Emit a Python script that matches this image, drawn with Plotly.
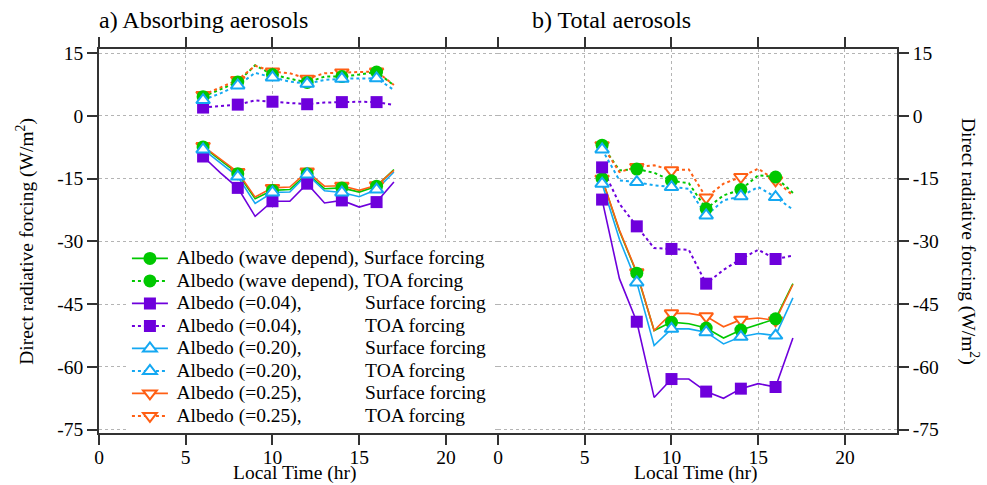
import plotly.graph_objects as go

# ---------------- data ----------------
hours = [6, 7, 8, 9, 10, 11, 12, 13, 14, 15, 16, 17]

# a) Absorbing aerosols
a_wave_sfc = [-7.4, -10.6, -13.8, -19.8, -17.8, -17.6, -13.8, -17.4, -17.2, -18.2, -16.8, -12.8]
a_wave_toa = [4.6, 6.4, 8.1, 12.1, 9.9, 8.9, 8.0, 9.4, 9.4, 9.9, 10.5, 7.3]
a_004_sfc = [-9.7, -13.6, -17.2, -24.0, -20.4, -20.4, -16.2, -20.8, -20.2, -21.8, -20.6, -15.8]
a_004_toa = [2.0, 2.3, 2.7, 3.7, 3.4, 3.2, 2.8, 3.2, 3.3, 3.4, 3.3, 2.6]
a_020_sfc = [-8.0, -11.2, -14.5, -20.9, -18.3, -18.2, -14.0, -17.9, -18.3, -19.3, -17.6, -13.4]
a_020_toa = [3.8, 5.4, 7.3, 10.3, 9.2, 8.2, 7.7, 8.6, 8.9, 9.0, 9.0, 6.2]
a_025_sfc = [-7.2, -10.3, -13.4, -19.4, -17.2, -17.0, -13.3, -16.8, -16.7, -17.8, -16.6, -13.0]
a_025_toa = [5.0, 6.8, 8.6, 12.0, 10.6, 10.2, 8.9, 10.2, 10.4, 10.5, 10.6, 7.4]

# b) Total aerosols
b_wave_sfc = [-15.0, -27.5, -37.6, -51.3, -49.3, -49.7, -50.7, -53.1, -51.2, -49.9, -48.5, -40.1]
b_wave_toa = [-7.0, -13.0, -12.7, -13.6, -15.5, -16.1, -22.2, -19.0, -17.6, -14.2, -14.6, -18.4]
b_004_sfc = [-20.0, -38.9, -49.2, -67.3, -62.9, -62.9, -65.9, -67.5, -65.2, -64.0, -64.8, -53.1]
b_004_toa = [-12.3, -21.0, -26.4, -31.6, -31.8, -32.0, -40.1, -36.8, -34.2, -32.0, -34.2, -33.4]
b_020_sfc = [-16.2, -29.5, -39.8, -54.9, -50.9, -50.9, -51.7, -54.5, -52.8, -52.0, -52.5, -43.5]
b_020_toa = [-8.0, -15.4, -15.8, -16.6, -17.0, -17.4, -23.8, -20.2, -19.2, -17.0, -19.4, -22.4]
b_025_sfc = [-15.0, -27.3, -37.4, -51.3, -47.2, -47.2, -47.9, -50.4, -48.7, -48.3, -48.9, -40.3]
b_025_toa = [-7.0, -13.4, -12.2, -11.8, -13.0, -12.8, -19.5, -16.2, -14.6, -12.6, -15.4, -19.0]

x_ticks = [0, 5, 10, 15, 20]
y_ticks = [15, 0, -15, -30, -45, -60, -75]

NB = "\u00a0"
legend_labels = [
    "Albedo (wave depend), Surface forcing",
    "Albedo (wave depend), TOA forcing",
    "Albedo (=0.04)," + NB * 13 + "Surface forcing",
    "Albedo (=0.04)," + NB * 13 + "TOA forcing",
    "Albedo (=0.20)," + NB * 13 + "Surface forcing",
    "Albedo (=0.20)," + NB * 13 + "TOA forcing",
    "Albedo (=0.25)," + NB * 13 + "Surface forcing",
    "Albedo (=0.25)," + NB * 13 + "TOA forcing",
]

# ---------------- styles ----------------
GREEN = "#00C800"
PURPLE = "#6E00DC"
BLUE = "#14A8F2"
ORANGE = "#FF5F14"
FONT = "Liberation Serif"

series = [
    # key, a data, b data, color, dash, symbol, filled
    ("wave_sfc", a_wave_sfc, b_wave_sfc, GREEN, "solid", "circle", True),
    ("wave_toa", a_wave_toa, b_wave_toa, GREEN, "dot", "circle", True),
    ("004_sfc", a_004_sfc, b_004_sfc, PURPLE, "solid", "square", True),
    ("004_toa", a_004_toa, b_004_toa, PURPLE, "dot", "square", True),
    ("020_sfc", a_020_sfc, b_020_sfc, BLUE, "solid", "triangle-up", False),
    ("020_toa", a_020_toa, b_020_toa, BLUE, "dot", "triangle-up", False),
    ("025_sfc", a_025_sfc, b_025_sfc, ORANGE, "solid", "triangle-down", False),
    ("025_toa", a_025_toa, b_025_toa, ORANGE, "dot", "triangle-down", False),
]


def marker_style(color, symbol, filled):
    if filled:
        size = 13 if symbol == "circle" else 12
        return dict(symbol=symbol, size=size, color=color, line=dict(width=0))
    return dict(symbol=symbol, size=12, color="white", line=dict(width=2, color=color))


fig = go.Figure()

# legend entries (legend order)
for (key, ya, yb, color, dash, symbol, filled), label in zip(series, legend_labels):
    fig.add_trace(go.Scatter(
        x=[None], y=[None], mode="lines+markers", xaxis="x", yaxis="y",
        name='<span style="font-size:14px">' + NB + '</span><span style="font-size:19.5px">'
             + label + "</span>",
        line=dict(color=color, width=1.6 if dash == "solid" else 2, dash=dash),
        marker=marker_style(color, symbol, filled),
        showlegend=True, hoverinfo="skip",
    ))

# lines (hourly)
for key, ya, yb, color, dash, symbol, filled in series:
    for ax, yy in (("", ya), ("2", yb)):
        fig.add_trace(go.Scatter(
            x=hours, y=yy, mode="lines", xaxis="x" + ax, yaxis="y" + ax,
            line=dict(color=color, width=1.6 if dash == "solid" else 2, dash=dash),
            showlegend=False, hoverinfo="skip",
        ))

# markers (every second hour), drawing order: orange, green, purple, blue
draw_order = [6, 7, 0, 1, 2, 3, 4, 5]
for i in draw_order:
    key, ya, yb, color, dash, symbol, filled = series[i]
    for ax, yy in (("", ya), ("2", yb)):
        fig.add_trace(go.Scatter(
            x=hours[::2], y=yy[::2], mode="markers", xaxis="x" + ax, yaxis="y" + ax,
            marker=marker_style(color, symbol, filled),
            showlegend=False, hoverinfo="skip",
        ))

tickfont = dict(family=FONT, size=19.5, color="black")
grid = dict(showgrid=True, gridcolor="#b4b4b4", gridwidth=1, griddash="dot", zeroline=False)

xcommon = dict(
    range=[0, 23], tickvals=x_ticks, ticktext=[str(v) for v in x_ticks],
    ticks="outside", ticklen=10, tickwidth=1.5, tickcolor="#333",
    showline=True, linecolor="#333", linewidth=1.5, mirror="ticks",
    tickfont=tickfont, ticklabelstandoff=-4, automargin=False,
    **grid,
)
ycommon = dict(
    range=[-75.8, 16], tickvals=y_ticks, ticktext=[str(v) for v in y_ticks],
    ticks="outside", ticklen=10, tickwidth=1.5, tickcolor="#333",
    showline=True, linecolor="#333", linewidth=1.5, mirror=False,
    tickfont=tickfont, automargin=False,
    **grid,
)

title_font = dict(family=FONT, size=19.5, color="black")

fig.update_layout(
    width=987, height=485,
    margin=dict(l=99, r=90, t=49, b=52),
    paper_bgcolor="white", plot_bgcolor="white",
    font=dict(family=FONT, size=19.5, color="black"),
    xaxis=dict(domain=[0, 0.5], anchor="y", **xcommon),
    xaxis2=dict(domain=[0.5, 1], anchor="y2", **xcommon),
    yaxis=dict(anchor="x", side="left", **ycommon),
    yaxis2=dict(anchor="x2", side="right", **ycommon),
    showlegend=True,
    legend=dict(
        x=0.035, y=0.497, xanchor="left", yanchor="top",
        bgcolor="white", borderwidth=0,
        font=dict(family=FONT, size=15, color="black"),
        itemwidth=36, tracegroupgap=0,
    ),
    annotations=[
        dict(text="a) Absorbing aerosols", xref="paper", yref="paper", x=-0.002, y=1.0755,
             xanchor="left", yanchor="middle", showarrow=False,
             font=dict(family=FONT, size=24, color="black")),
        dict(text="b) Total aerosols", xref="paper", yref="paper", x=0.540, y=1.0755,
             xanchor="left", yanchor="middle", showarrow=False,
             font=dict(family=FONT, size=24, color="black")),
        dict(text="Local Time (hr)", xref="paper", yref="paper", x=0.245, y=-0.138,
             xanchor="center", yanchor="bottom", showarrow=False, font=title_font),
        dict(text="Local Time (hr)", xref="paper", yref="paper", x=0.747, y=-0.138,
             xanchor="center", yanchor="bottom", showarrow=False, font=title_font),
        dict(text="Direct radiative forcing (W/m<sup>2</sup>)", xref="paper", yref="paper",
             x=-0.093, y=0.5, xanchor="center", yanchor="middle", textangle=-90,
             showarrow=False, font=title_font),
        dict(text="Direct radiative forcing (W/m<sup>2</sup>)", xref="paper", yref="paper",
             x=1.0915, y=0.5, xanchor="center", yanchor="middle", textangle=90,
             showarrow=False, font=title_font),
    ],
)

fig.write_html("out.html")
